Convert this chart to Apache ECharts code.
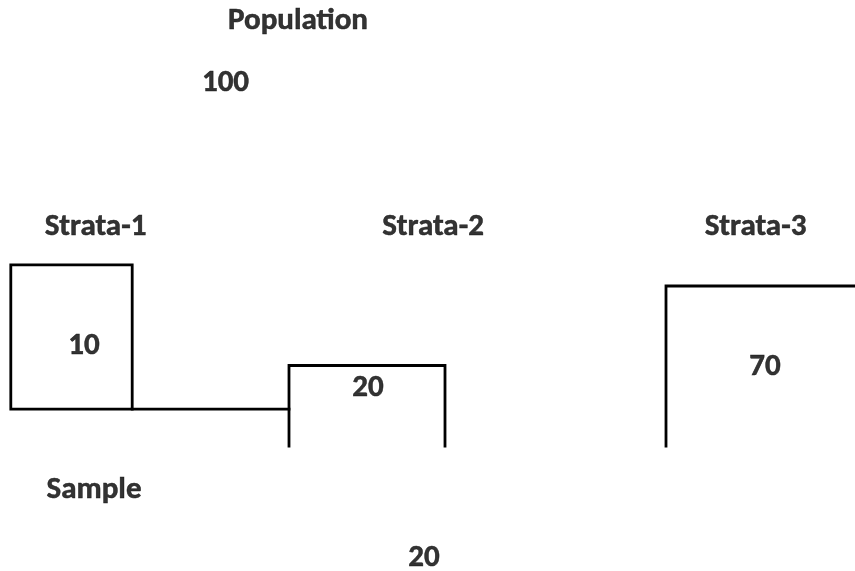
<!DOCTYPE html>
<html><head><meta charset="utf-8">
<script src="https://cdn.jsdelivr.net/npm/echarts@6/dist/echarts.min.js"></script>
<style>html,body{margin:0;padding:0;background:#fff}#c{width:855px;height:571px}</style>
</head><body><div id="c"></div>
<script>
// Data
const headings = ['Population', 'Strata-1', 'Strata-2', 'Strata-3', 'Sample'];
const totals = [100, 10, 20, 70, 20]; // population, strata 1-3, sample
const valueLabels = ['100', '10', '20', '70', '20'];

// Layout (positions in the diagram's coordinate space)
const headingPos = [[298, 21.5], [95.5, 227], [433, 227], [755.5, 227], [94, 490.5]];
const valuePos = [[225.5, 83], [84, 346.5], [368, 388], [765, 367.5], [424, 558]];
const shapes = [
  [[10.8, 409.2], [10.8, 264.8], [132.2, 264.8], [132.2, 409.2], [10.8, 409.2]],
  [[132.2, 409.2], [289, 409.2]],
  [[289, 446], [289, 365.5], [445, 365.5], [445, 446]],
  [[666, 446], [666, 286], [858, 286]]
];

const font = 'Carlito, Lato, sans-serif';
const series = shapes.map(s => ({
  type: 'line', data: s, symbol: 'none', silent: true,
  lineStyle: { color: '#000', width: 2.8, join: 'miter', cap: 'square' }, animation: false
}));
const labelStyle = { show: true, position: 'inside', formatter: p => p.name, color: '#000',
  textBorderColor: '#000', textBorderWidth: 0.5, fontFamily: font, fontWeight: 'bold', fontSize: 31 };
series.push({
  type: 'scatter', symbolSize: 0, animation: false, silent: true,
  data: headings.map((h, i) => ({ value: headingPos[i], name: h })),
  label: labelStyle
});
series.push({
  type: 'scatter', symbolSize: 0, animation: false, silent: true,
  data: valueLabels.map((v, i) => ({ value: valuePos[i], name: v, total: totals[i] })),
  label: labelStyle
});

const chart = echarts.init(document.getElementById('c'), null, { renderer: 'canvas' });
chart.setOption({
  backgroundColor: '#fff',
  grid: { left: 0, right: 0, top: 0, bottom: 0 },
  xAxis: { type: 'value', min: 0, max: 855, show: false },
  yAxis: { type: 'value', min: 0, max: 571, inverse: true, show: false },
  series
});
</script></body></html>
